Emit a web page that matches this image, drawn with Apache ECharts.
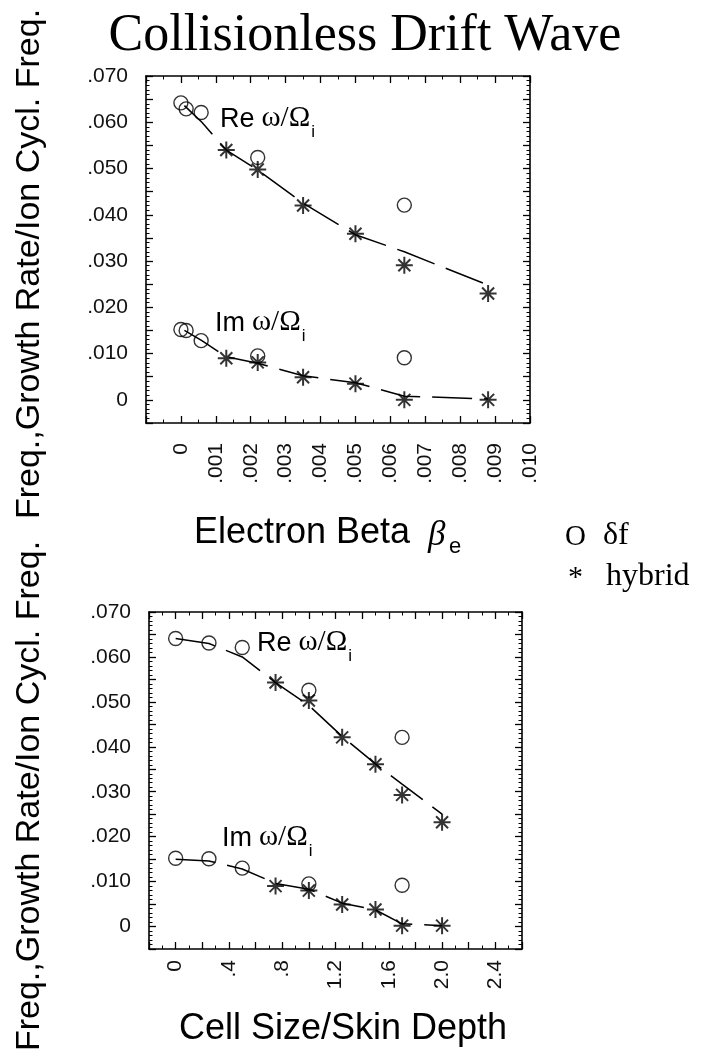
<!DOCTYPE html>
<html>
<head>
<meta charset="utf-8">
<script src="https://cdn.jsdelivr.net/npm/echarts@6/dist/echarts.min.js"></script>
<style>
  html, body { margin: 0; padding: 0; background: #fff; }
  #chart { width: 711px; height: 1060px; }
</style>
</head>
<body>
<div id="chart"></div>
<script>
/* ── data ── */
// top panel: versus electron beta
const betaDf = [0, 0.00015, 0.00058, 0.0022, 0.0064];
const reDfBeta = [0.0642, 0.0629, 0.0621, 0.0524, 0.0421];
const imDfBeta = [0.0152, 0.0150, 0.0128, 0.0095, 0.0091];
const betaHyb = [0.0013, 0.0022, 0.0035, 0.005, 0.0064, 0.0088];
const reHybBeta = [0.0540, 0.0498, 0.0420, 0.0359, 0.0291, 0.0230];
const imHybBeta = [0.0090, 0.0081, 0.0049, 0.0035, 0.0000, 0.0000];
const betaFit = [0.0001, 0.0006, 0.0013, 0.0022, 0.0035, 0.005, 0.0064, 0.0088];
const reFitBeta = [0.0636, 0.0600, 0.0540, 0.0497, 0.0425, 0.0357, 0.0320, 0.0248];
const imFitBeta = [0.0150, 0.0128, 0.0093, 0.0079, 0.0052, 0.0037, 0.0008, 0.0002];

// bottom panel: versus cell size / skin depth
const cellDf = [0, 0.25, 0.5, 1.0, 1.7];
const reDfCell = [0.0641, 0.0631, 0.0621, 0.0526, 0.0421];
const imDfCell = [0.0152, 0.0151, 0.0130, 0.0095, 0.0092];
const cellHyb = [0.75, 1.0, 1.25, 1.5, 1.7, 2.0];
const reHybCell = [0.0543, 0.0503, 0.0421, 0.0361, 0.0293, 0.0232];
const imHybCell = [0.0090, 0.0080, 0.0049, 0.0038, 0.0002, 0.0002];
const cellFit = [0, 0.25, 0.5, 0.75, 1.0, 1.25, 1.5, 1.7, 2.0];
const reFitCell = [0.0641, 0.0630, 0.0600, 0.0543, 0.0492, 0.0423, 0.0362, 0.0317, 0.0250];
const imFitCell = [0.0150, 0.0146, 0.0128, 0.0096, 0.0083, 0.0052, 0.0037, 0.0006, 0.0002];

const yTitle = 'Freq.,Growth Rate/Ion Cycl. Freq.';

/* ── helpers ── */
const zip = (xs, ys) => xs.map((x, i) => [x, ys[i]]);
const near = (v, step) => Math.abs(v / step - Math.round(v / step)) < 1e-6;

const SANS = '"Liberation Sans", Arial, sans-serif';
const SERIF = '"Liberation Serif", "Times New Roman", serif';
const ASTERISK = 'path://M10,0L10,20M0,10L20,10M2.93,2.93L17.07,17.07M2.93,17.07L17.07,2.93';

const ctx = document.createElement('canvas').getContext('2d');
function textWidth(text, font) {
  ctx.font = font;
  return ctx.measureText(text).width;
}

function yLabel(v) {
  if (v < -1e-9 || !near(v, 0.01)) return '';
  if (Math.abs(v) < 1e-9) return '0';
  return v.toFixed(3).slice(1);
}
function betaLabel(v) {
  if (v < -1e-9) return '';
  if (Math.abs(v) < 1e-9) return '0';
  return v.toFixed(3).slice(1);
}
function cellLabel(v) {
  if (v < -1e-9 || v > 2.5 || !near(v, 0.4)) return '';
  if (Math.abs(v) < 1e-9) return '0';
  const s = v.toFixed(1);
  return s.startsWith('0') ? s.slice(1) : s;
}

const boxLine = { show: true, onZero: false, lineStyle: { color: '#000', width: 1.6 } };

function yAxes(gi) {
  const base = {
    type: 'value', gridIndex: gi, min: -0.005, max: 0.07, interval: 0.005,
    axisLine: boxLine, splitLine: { show: false },
    axisTick: { show: true, inside: true, length: 7, lineStyle: { color: '#000', width: 1.3 } },
    minorTick: { show: true, splitNumber: 5, length: 3.5, lineStyle: { color: '#000', width: 1 } },
  };
  return [
    Object.assign({}, base, {
      position: 'left',
      axisLabel: { formatter: yLabel, fontFamily: SANS, fontSize: 21, color: '#111', margin: 18 },
    }),
    Object.assign({}, base, { position: 'right', axisLabel: { show: false } }),
  ];
}

function xAxes(gi, min, max, interval, minorSplit, fmt, margin) {
  const base = {
    type: 'value', gridIndex: gi, min, max, interval,
    axisLine: boxLine, splitLine: { show: false },
    axisTick: { show: true, inside: true, length: 7, lineStyle: { color: '#000', width: 1.3 } },
    minorTick: { show: true, splitNumber: minorSplit, length: 3.5, lineStyle: { color: '#000', width: 1 } },
  };
  return [
    Object.assign({}, base, {
      position: 'bottom',
      axisLabel: {
        formatter: fmt, rotate: 90, fontFamily: SANS, fontSize: 21, color: '#111', margin,
        showMinLabel: true, showMaxLabel: true,
      },
    }),
    Object.assign({}, base, { position: 'top', axisLabel: { show: false } }),
  ];
}

function fitSeries(xi, yi, data) {
  return {
    type: 'line', xAxisIndex: xi, yAxisIndex: yi, data, showSymbol: false, symbol: 'none',
    lineStyle: { color: '#000', width: 1.5, type: [40, 12] }, z: 2, silent: true,
  };
}
function circleSeries(xi, yi, data) {
  return {
    type: 'scatter', xAxisIndex: xi, yAxisIndex: yi, data, symbol: 'circle', symbolSize: 14,
    itemStyle: { color: 'rgba(0,0,0,0)', borderColor: '#000', borderWidth: 1.4 }, z: 3, silent: true,
  };
}
function starSeries(xi, yi, data) {
  return {
    type: 'scatter', xAxisIndex: xi, yAxisIndex: yi, data, symbol: ASTERISK, symbolSize: 17,
    itemStyle: { color: 'rgba(0,0,0,0)', borderColor: '#000', borderWidth: 2 }, z: 4, silent: true,
  };
}

// "Re ω/Ωi" style annotation, laid out by measured widths
function curveTag(part, x, y) {
  const f1 = '27px ' + SANS, f2 = '29px ' + SERIF, f3 = '17px ' + SANS;
  const w1 = textWidth(part, f1) + 7;
  const w2 = textWidth('ω/Ω', f2) + 1;
  return {
    type: 'group', x, y,
    children: [
      { type: 'text', x: 0, y: 0, style: { text: part, font: f1, fill: '#000', textVerticalAlign: 'bottom' } },
      { type: 'text', x: w1, y: 0, style: { text: 'ω/Ω', font: f2, fill: '#000', textVerticalAlign: 'bottom' } },
      { type: 'text', x: w1 + w2, y: 8, style: { text: 'i', font: f3, fill: '#000', textVerticalAlign: 'bottom' } },
    ],
  };
}

const chart = echarts.init(document.getElementById('chart'), null, { renderer: 'canvas' });

chart.setOption({
  backgroundColor: '#fff',
  animation: false,
  grid: [
    { left: 146, top: 76, width: 384, height: 347 },
    { left: 149, top: 612, width: 373, height: 337 },
  ],
  xAxis: [
    ...xAxes(0, -0.001, 0.010, 0.001, 2, betaLabel, 20),
    ...xAxes(1, -0.2, 2.6, 0.2, 2, cellLabel, 11),
  ],
  yAxis: [...yAxes(0), ...yAxes(1)],
  series: [
    fitSeries(0, 0, zip(betaFit, reFitBeta)),
    fitSeries(0, 0, zip(betaFit, imFitBeta)),
    circleSeries(0, 0, zip(betaDf, reDfBeta)),
    circleSeries(0, 0, zip(betaDf, imDfBeta)),
    starSeries(0, 0, zip(betaHyb, reHybBeta)),
    starSeries(0, 0, zip(betaHyb, imHybBeta)),

    fitSeries(2, 2, zip(cellFit, reFitCell)),
    fitSeries(2, 2, zip(cellFit, imFitCell)),
    circleSeries(2, 2, zip(cellDf, reDfCell)),
    circleSeries(2, 2, zip(cellDf, imDfCell)),
    starSeries(2, 2, zip(cellHyb, reHybCell)),
    starSeries(2, 2, zip(cellHyb, imHybCell)),
  ],
  graphic: [
    // title
    { type: 'text', x: 365, y: 62, style: { text: 'Collisionless Drift Wave', font: '52px ' + SERIF, fill: '#000', textAlign: 'center', textVerticalAlign: 'bottom' } },
    // y axis titles
    { type: 'text', x: 30, y: 264, rotation: Math.PI / 2, style: { text: yTitle, font: '34px ' + SANS, fill: '#000', textAlign: 'center', textVerticalAlign: 'middle' } },
    { type: 'text', x: 30, y: 796, rotation: Math.PI / 2, style: { text: yTitle, font: '34px ' + SANS, fill: '#000', textAlign: 'center', textVerticalAlign: 'middle' } },
    // x axis titles
    { type: 'text', x: 194, y: 551, style: { text: 'Electron Beta', font: '36px ' + SANS, fill: '#000', textVerticalAlign: 'bottom' } },
    { type: 'text', x: 428, y: 553, style: { text: 'β', font: 'italic 35px ' + SERIF, fill: '#000', textVerticalAlign: 'bottom' } },
    { type: 'text', x: 449, y: 558, style: { text: 'e', font: '22px ' + SANS, fill: '#000', textVerticalAlign: 'bottom' } },
    { type: 'text', x: 343, y: 1047, style: { text: 'Cell Size/Skin Depth', font: '36px ' + SANS, fill: '#000', textAlign: 'center', textVerticalAlign: 'bottom' } },
    // legend
    { type: 'text', x: 565, y: 552, style: { text: 'O', font: '29px ' + SERIF, fill: '#000', textVerticalAlign: 'bottom' } },
    { type: 'text', x: 603, y: 552, style: { text: 'δf', font: '32px ' + SERIF, fill: '#000', textVerticalAlign: 'bottom' } },
    { type: 'text', x: 568, y: 593, style: { text: '*', font: '30px ' + SERIF, fill: '#000', textVerticalAlign: 'bottom' } },
    { type: 'text', x: 606, y: 593, style: { text: 'hybrid', font: '32px ' + SERIF, fill: '#000', textVerticalAlign: 'bottom' } },
    // curve annotations
    curveTag('Re', 220, 133),
    curveTag('Im', 215, 337),
    curveTag('Re', 257, 657),
    curveTag('Im', 222, 852),
  ],
});
</script>
</body>
</html>
